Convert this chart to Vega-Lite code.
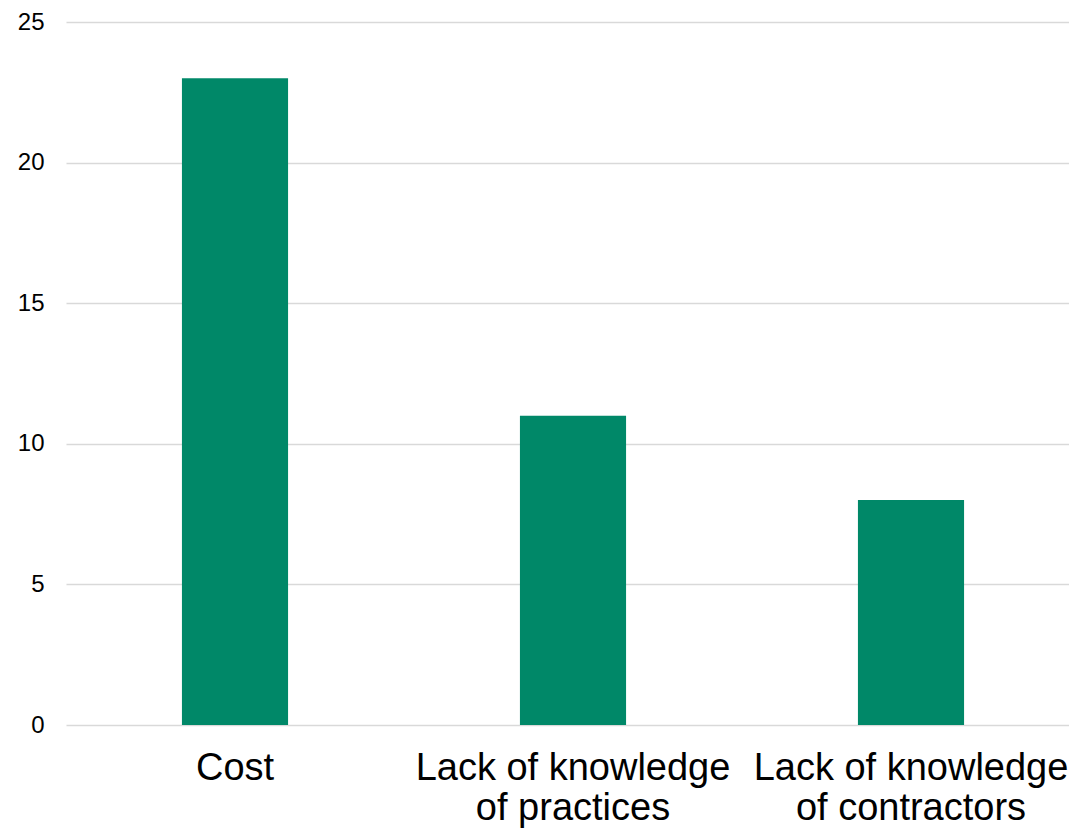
{
  "$schema": "https://vega.github.io/schema/vega-lite/v6.json",
  "autosize": {"type": "none"},
  "padding": {"left": 66, "top": 22, "right": 0, "bottom": 104},
  "width": 1014,
  "height": 703,
  "background": "white",
  "config": {"view": {"stroke": null}, "font": "Liberation Sans"},
  "data": {"values": [
    {"barrier": "Cost", "count": 23},
    {"barrier": "Lack of knowledge|of practices", "count": 11},
    {"barrier": "Lack of knowledge|of contractors", "count": 8}
  ]},
  "mark": {"type": "bar", "color": "#008868"},
  "encoding": {
    "x": {
      "field": "barrier", "type": "nominal", "sort": null,
      "scale": {"paddingInner": 0.686, "paddingOuter": 0.343},
      "axis": {
        "title": null, "labelAngle": 0, "domain": false, "ticks": false,
        "labelFontSize": 38, "labelColor": "#000000", "labelPadding": 24,
        "labelLineHeight": 40, "labelExpr": "split(datum.value, '|')",
        "labelLimit": 0
      }
    },
    "y": {
      "field": "count", "type": "quantitative",
      "scale": {"domain": [0, 25]},
      "axis": {
        "title": null, "values": [0, 5, 10, 15, 20, 25], "domain": false, "ticks": false,
        "labelFontSize": 24, "labelColor": "#000000", "labelPadding": 22,
        "gridColor": "#d9d9d9", "gridWidth": 1.5
      }
    }
  }
}
